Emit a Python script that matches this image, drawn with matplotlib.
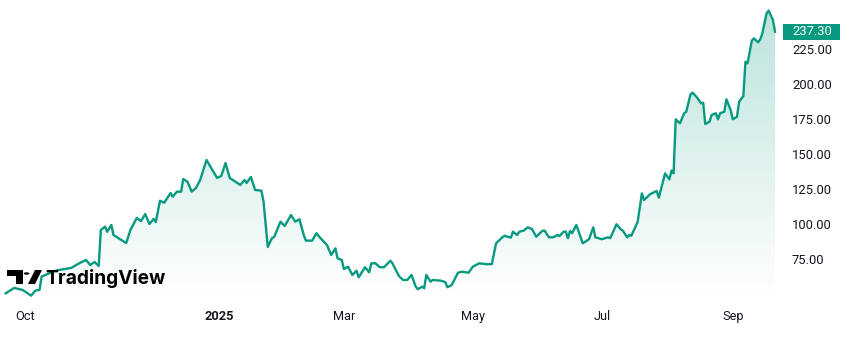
import numpy as np
import matplotlib
matplotlib.use('Agg')
import matplotlib.pyplot as plt
import matplotlib.dates as mdates
from matplotlib.patches import Rectangle, Circle, Polygon
from matplotlib.transforms import blended_transform_factory

plt.rcParams['font.family'] = ['Roboto', 'DejaVu Sans']

# daily closes, days counted from 2024-10-01
start = np.datetime64('2024-10-01')
days = [-9, -5, -1, 3, 5, 7, 8, 12, 14, 16, 22, 26, 29, 31, 33, 35, 36, 38, 39, 41,
        42, 48, 50, 53, 55, 57, 59, 61, 62, 64, 66, 69, 70, 72, 74, 75, 77, 79, 81, 83,
        86, 91, 93, 95, 97, 102, 104, 105, 107, 109, 112, 113, 115, 117, 118, 121, 123, 126, 128, 130,
        132, 133, 136, 138, 140, 143, 145, 147, 148, 150, 151, 153, 155, 157, 158, 161, 163, 164, 166, 168,
        170, 173, 174, 177, 179, 181, 183, 185, 186, 188, 189, 190, 192, 193, 197, 199, 200, 202, 205, 207,
        210, 212, 215, 219, 221, 223, 226, 227, 230, 231, 233, 234, 236, 238, 240, 242, 245, 246, 248, 250,
        252, 253, 255, 256, 257, 258, 259, 261, 264, 267, 269, 270, 273, 276, 277, 280, 282, 283, 285, 286,
        287, 289, 290, 292, 293, 296, 299, 300, 303, 305, 306, 307, 308, 310, 312, 313, 315, 316, 318, 320,
        321, 322, 324, 325, 327, 328, 329, 331, 332, 334, 335, 337, 338, 340, 341, 342, 344, 345, 347, 348,
        349, 351, 352, 354, 355]
closes = [50.5, 54.3, 52.9, 48.8, 52.4, 52.9, 62.4, 65.0, 66.4, 67.1, 68.6, 72.1, 74.3, 70.7, 72.9, 70.0, 95.7, 98.1, 94.5, 99.3,
          92.1, 86.4, 95.7, 104.3, 102.1, 107.1, 100.0, 103.6, 101.4, 116.6, 115.2, 122.1, 119.5, 123.1, 123.1, 132.1, 130.2, 123.1, 125.7, 131.4,
          145.7, 132.9, 134.3, 143.6, 132.9, 127.9, 131.4, 129.3, 133.6, 124.3, 123.8, 115.9, 83.6, 90.0, 90.7, 101.6, 98.6, 106.4, 101.6, 103.4,
          92.1, 88.1, 88.1, 93.4, 89.8, 85.0, 77.9, 82.6, 75.5, 74.3, 67.9, 69.5, 63.6, 66.6, 61.9, 69.1, 65.5, 71.9, 71.9, 69.1,
          69.1, 73.8, 71.9, 62.9, 60.0, 60.0, 63.6, 55.2, 53.4, 55.2, 54.1, 63.6, 58.8, 60.0, 59.5, 58.4, 54.8, 56.4, 65.2, 65.9,
          65.2, 69.5, 71.9, 71.2, 71.4, 86.2, 90.5, 91.6, 90.2, 94.5, 92.1, 94.5, 95.2, 97.6, 96.4, 90.9, 95.2, 95.2, 90.5, 90.5,
          92.1, 91.4, 94.5, 94.5, 89.8, 95.0, 93.4, 99.3, 86.2, 89.1, 97.6, 90.5, 89.1, 90.5, 89.8, 99.8, 96.2, 95.2, 90.5, 92.1,
          91.6, 98.1, 101.6, 121.9, 117.1, 121.4, 123.6, 118.8, 136.2, 131.9, 138.1, 136.2, 174.8, 171.9, 179.1, 180.2, 192.6, 193.8, 190.5, 186.2,
          186.6, 171.4, 173.1, 177.9, 179.1, 174.8, 179.1, 180.2, 189.1, 181.4, 174.8, 176.6, 187.4, 191.4, 215.9, 214.8, 230.9, 232.6, 229.8, 231.9,
          236.2, 250.5, 252.4, 245.7, 237.30]

tick_dates = ['2024-10-01', '2025-01-01', '2025-03-01', '2025-05-01', '2025-07-01', '2025-09-01']
tick_labels = ['Oct', '2025', 'Mar', 'May', 'Jul', 'Sep']
price_ticks = [75, 100, 125, 150, 175, 200, 225]

green = '#089981'
ink = '#131722'

W, H = 849, 344
fig = plt.figure(figsize=(W / 100, H / 100), dpi=100)
ax = fig.add_axes([0, 44 / H, 778 / W, 300 / H])

x0 = mdates.date2num(start)
x = x0 + np.array(days, dtype=float)
y = np.array(closes)

ymin, ymax = 45.7, 260.0
xmin, xmax = x0 - 11.7, x0 + 356.4

# gradient area under the line
fill = ax.fill_between(x, y, ymin, facecolor='none', edgecolor='none')
grad = np.zeros((256, 1, 4))
grad[:, 0, :3] = np.array([8, 153, 129]) / 255
grad[:, 0, 3] = np.linspace(0.0, 0.28, 256)
im = ax.imshow(grad, extent=[xmin, xmax, ymin, ymax], origin='lower',
               aspect='auto', interpolation='bilinear', zorder=1)
im.set_clip_path(fill.get_paths()[0], transform=ax.transData)

ax.plot(x, y, color=green, lw=1.7, solid_joinstyle='round', zorder=3)

ax.set_xlim(xmin, xmax)
ax.set_ylim(ymin, ymax)
for s in ax.spines.values():
    s.set_visible(False)

ax.set_xticks([mdates.date2num(np.datetime64(d)) for d in tick_dates])
ax.set_xticklabels(tick_labels)
ax.xaxis.get_ticklabels()[1].set_fontweight('bold')
ax.tick_params(axis='x', length=0, pad=7, labelsize=9.2, labelcolor=ink)

ax.yaxis.tick_right()
ax.set_yticks(price_ticks)
ax.set_yticklabels(['%.2f' % v for v in price_ticks])
ax.tick_params(axis='y', length=0, pad=10, labelsize=9.4, labelcolor=ink)

# last price badge
trans = blended_transform_factory(fig.transFigure, ax.transData)
last = closes[-1]
ax.add_patch(Rectangle((782.5 / W, last - 5.8), 57 / W, 11.6, transform=trans,
                       facecolor=green, edgecolor='none', clip_on=False, zorder=5))
ax.text(792 / W, last, '%.2f' % last, transform=trans, color='white', fontsize=9.4,
        ha='left', va='center', zorder=6)

# TradingView watermark
def px(xp, yp):
    return (xp / W, 1 - yp / H)

fig.patches.append(Polygon([px(7, 270), px(23, 270), px(23, 284), px(16, 284), px(16, 276), px(7, 276)],
                           closed=True, transform=fig.transFigure, facecolor='black', edgecolor='none', zorder=10))
fig.patches.append(Circle(px(26.5, 273.5), 2.9 / W, transform=fig.transFigure,
                          facecolor='black', edgecolor='none', zorder=10))
fig.patches.append(Polygon([px(28, 284), px(35, 270), px(42, 270), px(35, 284)],
                           closed=True, transform=fig.transFigure, facecolor='black', edgecolor='none', zorder=10))
fig.text(45 / W, 1 - 284 / H, 'TradingView', family=['Inter', 'DejaVu Sans'], fontsize=13.8,
         fontweight='bold', color='black', ha='left', va='baseline', zorder=10)

fig.savefig('out.png', dpi=100, facecolor='white')
